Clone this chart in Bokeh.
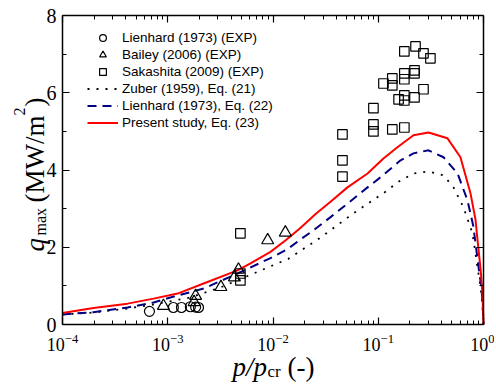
import math
from bokeh.plotting import figure
from bokeh.models import (LinearAxis, LogAxis, FixedTicker, Legend, LegendItem, Label)
from bokeh.embed import file_html
from bokeh.resources import INLINE

# ---------------- data ----------------
# Lienhard (1973) experimental points
lien_exp_p = [6.7e-4, 1.13e-3, 1.35e-3, 1.64e-3, 1.84e-3, 1.96e-3]
lien_exp_q = [0.34, 0.44, 0.44, 0.46, 0.45, 0.44]

# Bailey (2006) experimental points
bailey_p = [9.1e-4, 1.78e-3, 1.84e-3, 3.2e-3, 4.3e-3, 4.7e-3, 8.9e-3, 1.31e-2]
bailey_q = [0.48, 0.58, 0.74, 0.97, 1.22, 1.42, 2.18, 2.38]

# Sakashita (2009) experimental points
saka_p = [4.9e-3, 4.9e-3, 4.9e-3, 0.0457, 0.0457, 0.0457, 0.090, 0.090, 0.090,
          0.136, 0.177, 0.112, 0.136, 0.136, 0.177, 0.177, 0.221, 0.221,
          0.177, 0.226, 0.269, 0.313, 0.156, 0.177, 0.177, 0.221, 0.269]
saka_q = [2.36, 1.32, 1.14, 4.92, 4.25, 3.83, 5.60, 5.18, 5.00,
          5.05, 5.10, 6.24, 6.37, 6.19, 6.50, 6.35, 6.58, 6.50,
          7.07, 7.20, 7.02, 6.89, 5.83, 5.93, 5.80, 5.88, 6.09]

# Zuber (1959), Eq. (21)
zuber_p = [1e-4, 1.97e-4, 3.56e-4, 6.43e-4, 1.64e-3, 3.17e-3, 6.53e-3, 1.4e-2,
           2.83e-2, 5.82e-2, 0.122, 0.152, 0.216, 0.300, 0.417, 0.519, 0.646,
           0.786, 0.877, 0.94, 0.98, 1.0]
zuber_q = [0.26, 0.31, 0.39, 0.49, 0.70, 0.96, 1.32, 1.70,
           2.25, 2.88, 3.47, 3.68, 3.91, 3.96, 3.86, 3.55, 3.03,
           2.36, 1.48, 0.95, 0.45, 0.0]

# Lienhard (1973), Eq. (22)
lien_p = [1e-4, 1.97e-4, 4.15e-4, 7.33e-4, 1.06e-3, 2.19e-3, 4.6e-3, 9.47e-3,
          1.37e-2, 1.82e-2, 2.43e-2, 3.52e-2, 5.1e-2, 7.91e-2, 0.105, 0.163,
          0.216, 0.300, 0.417, 0.567, 0.705, 0.80, 0.896, 0.95, 0.978, 1.0]
lien_q = [0.26, 0.32, 0.44, 0.57, 0.70, 0.93, 1.32, 1.72,
          1.95, 2.20, 2.44, 2.78, 3.13, 3.55, 3.81, 4.25,
          4.43, 4.51, 4.33, 3.91, 3.21, 2.55, 1.50, 1.00, 0.62, 0.0]

# Present study, Eq. (23)
pres_p = [1e-4, 1.97e-4, 4.15e-4, 7.33e-4, 1.24e-3, 2.19e-3, 4.6e-3, 6.11e-3,
          9.46e-3, 1.32e-2, 1.82e-2, 2.54e-2, 3.52e-2, 5.1e-2, 7.91e-2, 0.112,
          0.152, 0.216, 0.300, 0.455, 0.604, 0.752, 0.839, 0.877, 0.94, 0.978, 1.0]
pres_q = [0.30, 0.43, 0.54, 0.67, 0.80, 1.06, 1.40, 1.58,
          1.88, 2.18, 2.50, 2.86, 3.18, 3.55, 3.91, 4.30,
          4.59, 4.90, 4.97, 4.82, 4.33, 3.40, 2.72, 2.20, 1.40, 0.80, 0.0]

x_major = [10.0 ** k for k in range(-4, 1)]
x_minor = [m * 10.0 ** k for k in range(-4, 0) for m in range(2, 10)]
y_major = [0, 2, 4, 6, 8]
y_minor = [1, 3, 5, 7]
X_LO, X_HI = 1e-4, 1.0
Y_LO, Y_HI = 0, 8

legend_labels = ["Lienhard (1973) (EXP)", "Bailey (2006) (EXP)", "Sakashita (2009) (EXP)",
                 "Zuber (1959), Eq. (21)", "Lienhard (1973), Eq. (22)", "Present study, Eq. (23)"]

# ---------------- layout geometry (px) ----------------
W, H = 494, 382
FL, FR, FT, FB = 62, 483, 15, 324          # box of the data area on the canvas
ppd = (FR - FL) / 4.0                     # px per decade
ppu = (FB - FT) / 8.0                     # px per MW/m2
x_rng = (10 ** (-4 - FL / ppd), 10 ** ((W - FR) / ppd))
y_rng = (-(H - FB) / ppu, 8 + FT / ppu)

SERIF = "Liberation Serif"
p = figure(width=W, height=H, x_axis_type="log", x_range=x_rng, y_range=y_rng,
           output_backend="svg", toolbar_location=None,
           min_border_left=0, min_border_right=0, min_border_top=0, min_border_bottom=0)
p.xgrid.visible = False
p.ygrid.visible = False
p.outline_line_color = None
p.background_fill_color = "white"
p.border_fill_color = "white"

xt = FixedTicker(ticks=x_major, minor_ticks=x_minor)
yt = FixedTicker(ticks=y_major, minor_ticks=y_minor)


def style(ax, hide=False):
    ax.axis_line_width = 1.5
    ax.axis_line_color = "black"
    ax.major_tick_in = 7
    ax.major_tick_out = 0
    ax.minor_tick_in = 4
    ax.minor_tick_out = 0
    ax.major_tick_line_width = 1.2
    ax.minor_tick_line_width = 1.0
    ax.major_tick_line_color = "black"
    ax.minor_tick_line_color = "black"
    ax.major_label_text_font = SERIF
    ax.major_label_text_color = "black"
    if hide:
        ax.major_label_text_font_size = "0px"
        ax.major_label_text_color = None
        ax.major_label_standoff = 0


xa = p.xaxis[0]
xa.ticker = xt
style(xa)
xa.fixed_location = Y_LO
xa.bounds = (X_LO, X_HI)
xa.major_label_text_font_size = "18px"
xa.major_label_standoff = 9

ya = p.yaxis[0]
ya.ticker = yt
style(ya)
ya.fixed_location = X_LO
ya.bounds = (Y_LO, Y_HI)
ya.major_label_text_font_size = "20px"
ya.major_label_standoff = 6

top = LogAxis(ticker=xt, fixed_location=Y_HI, bounds=(X_LO, X_HI))
style(top, hide=True)
p.add_layout(top, "above")
right = LinearAxis(ticker=yt, fixed_location=X_HI, bounds=(Y_LO, Y_HI))
style(right, hide=True)
p.add_layout(right, "right")

# ---------------- glyphs ----------------
r_zub = p.line(zuber_p, zuber_q, line_color="black", line_width=1.8, line_dash="2 7")
r_lin = p.line(lien_p, lien_q, line_color="#000080", line_width=2, line_dash="9 6")
r_pre = p.line(pres_p, pres_q, line_color="#ff0000", line_width=2)

r_c = p.scatter(lien_exp_p, lien_exp_q, marker="circle", size=10, fill_color=None,
                line_color="black", line_width=1.2)
r_t = p.scatter(bailey_p, bailey_q, marker="triangle", size=12, fill_color=None,
                line_color="black", line_width=1.2)
r_s = p.scatter(saka_p, saka_q, marker="square", size=9.5, fill_color=None,
                line_color="black", line_width=1.2)

legend = Legend(items=[LegendItem(label=legend_labels[0], renderers=[r_c]),
                       LegendItem(label=legend_labels[1], renderers=[r_t]),
                       LegendItem(label=legend_labels[2], renderers=[r_s]),
                       LegendItem(label=legend_labels[3], renderers=[r_zub]),
                       LegendItem(label=legend_labels[4], renderers=[r_lin]),
                       LegendItem(label=legend_labels[5], renderers=[r_pre])],
                location=(87, H - 131), margin=0, padding=0, spacing=0,
                glyph_height=17, glyph_width=31, label_height=17, label_standoff=4,
                label_text_font="Liberation Sans", label_text_font_size="13.5px",
                label_text_color="black",
                background_fill_alpha=0, border_line_alpha=0)
p.add_layout(legend)


# ---------------- axis titles (pieces for italics / sub- & superscripts) ----------------
def lab(text, px, py, size, italic=False, angle=0.0):
    # px, py: canvas pixels from the top-left corner
    p.add_layout(Label(x=px, y=H - py, x_units="screen", y_units="screen", text=text,
                       text_font=SERIF, text_font_size=size,
                       text_font_style="italic" if italic else "normal",
                       text_color="black", angle=angle, text_align="left",
                       text_baseline="alphabetic"))


# x title: p/p_cr (-)
lab("p/p", 232, 366, "27px", italic=True)
lab("cr", 267, 371, "17px")
lab("(-)", 287, 366, "27px")

# y title: q_max (MW/m^2)
A = math.pi / 2
lab("q", 34, 251, "27px", italic=True, angle=A)
lab("max", 40, 235, "16px", angle=A)
lab("(MW/m", 34, 202, "27px", angle=A)
lab("2", 19, 115, "16px", angle=A)
lab(")", 34, 106, "27px", angle=A)

open("out.html", "w").write(file_html(p, INLINE))
